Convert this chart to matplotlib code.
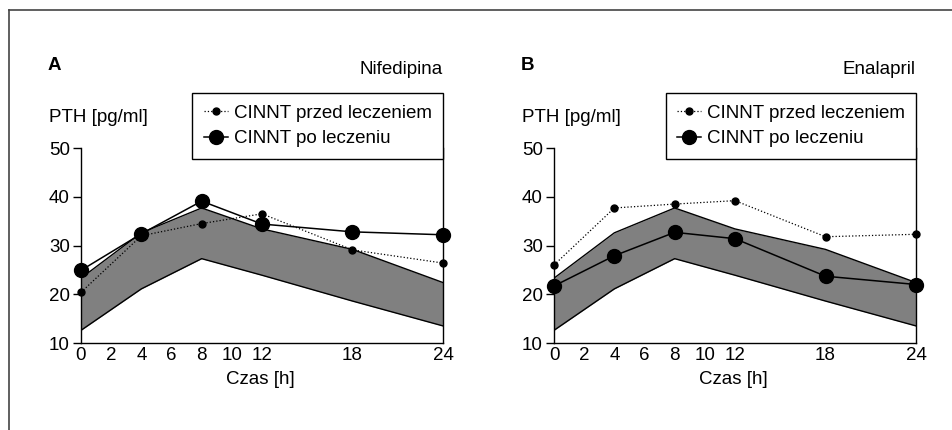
import numpy as np
import matplotlib.pyplot as plt
from matplotlib.lines import Line2D

plt.rcParams['font.family'] = ['Liberation Sans', 'DejaVu Sans']
plt.rcParams['font.size'] = 13.5

# Daten
hours = [0, 4, 8, 12, 18, 24]
band_low = [12.6, 21.1, 27.3, 23.9, 18.6, 13.5]
band_high = [23.3, 32.6, 37.7, 33.4, 29.2, 22.4]

nif_before = [20.4, 32.0, 34.5, 36.5, 29.1, 26.4]
nif_after = [24.9, 32.4, 39.1, 34.4, 32.8, 32.2]
ena_before = [26.0, 37.7, 38.5, 39.2, 31.8, 32.3]
ena_after = [21.7, 27.9, 32.7, 31.4, 23.7, 22.0]

xticks = [0, 2, 4, 6, 8, 10, 12, 18, 24]
yticks = [10, 20, 30, 40, 50]

panels = [
    ('A', 'Nifedipina', nif_before, nif_after, 81),
    ('B', 'Enalapril', ena_before, ena_after, 554),
]

W, H = 953, 430
fig = plt.figure(figsize=(W / 100, H / 100), dpi=100)

# Rahmen links/oben
fig.add_artist(Line2D([9.5 / W, 9.5 / W], [0, 1 - 9.5 / H], transform=fig.transFigure, color='#444444', lw=1.2))
fig.add_artist(Line2D([9.5 / W, 1], [1 - 9.5 / H, 1 - 9.5 / H], transform=fig.transFigure, color='#444444', lw=1.2))

for letter, drug, before, after, left in panels:
    ax = fig.add_axes([left / W, (H - 343) / H, 362 / W, 195 / H])
    ax.fill_between(hours, band_low, band_high, color='#808080', lw=0)
    ax.plot(hours, band_low, color='black', lw=1.0)
    ax.plot(hours, band_high, color='black', lw=1.0)
    ax.plot(hours, before, color='black', ls=':', lw=0.9, marker='o', ms=5,
            label='CINNT przed leczeniem', clip_on=False, zorder=4)
    ax.plot(hours, after, color='black', ls='-', lw=1.1, marker='o', ms=10,
            label='CINNT po leczeniu', clip_on=False, zorder=5)

    ax.set_xlim(0, 24)
    ax.set_ylim(10, 50)
    ax.set_xticks(xticks)
    ax.set_yticks(yticks)
    ax.spines['top'].set_visible(False)
    for s in ['left', 'bottom', 'right']:
        ax.spines[s].set_linewidth(1.0)
    ax.tick_params(axis='x', length=0, pad=3)
    ax.tick_params(axis='y', length=6, width=1.0, pad=2)

    leg = ax.legend(loc='upper right', bbox_to_anchor=(1.0, 1.28), borderaxespad=0,
                    fancybox=False, edgecolor='black', framealpha=1,
                    handlelength=1.3, handletextpad=0.3, borderpad=0.6, labelspacing=0.45)
    leg.get_frame().set_linewidth(1.0)
    leg.set_zorder(10)

    fig.text((left - 33) / W, 1 - 66 / H, letter, fontweight='bold', va='center', ha='left')
    fig.text((left + 362) / W, 1 - 69 / H, drug, va='center', ha='right')
    fig.text((left - 32) / W, 1 - 118 / H, 'PTH [pg/ml]', va='center', ha='left')
    fig.text((left + 179) / W, 1 - 380 / H, 'Czas [h]', va='center', ha='center')

plt.savefig('out.png', dpi=100)
